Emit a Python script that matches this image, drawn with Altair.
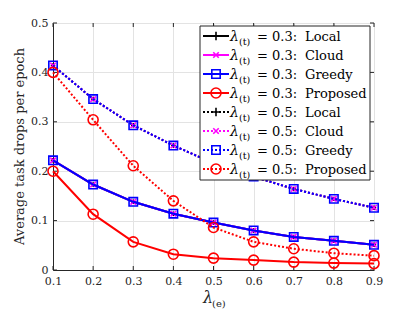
import altair as alt
import pandas as pd

lam_e = [0.1, 0.2, 0.3, 0.4, 0.5, 0.6, 0.7, 0.8, 0.9]
local_03 = [0.222, 0.173, 0.138, 0.114, 0.096, 0.080, 0.067, 0.059, 0.051]
cloud_03 = [0.222, 0.173, 0.138, 0.114, 0.096, 0.080, 0.067, 0.059, 0.051]
greedy_03 = [0.222, 0.173, 0.138, 0.114, 0.096, 0.080, 0.067, 0.059, 0.051]
proposed_03 = [0.200, 0.113, 0.057, 0.032, 0.024, 0.020, 0.016, 0.014, 0.013]
local_05 = [0.414, 0.346, 0.293, 0.252, 0.216, 0.189, 0.164, 0.144, 0.126]
cloud_05 = [0.414, 0.346, 0.293, 0.252, 0.216, 0.189, 0.164, 0.144, 0.126]
greedy_05 = [0.414, 0.346, 0.293, 0.252, 0.216, 0.189, 0.164, 0.144, 0.126]
proposed_05 = [0.400, 0.304, 0.211, 0.140, 0.086, 0.057, 0.043, 0.034, 0.029]

x_ticks = [0.1, 0.2, 0.3, 0.4, 0.5, 0.6, 0.7, 0.8, 0.9]
y_ticks = [0, 0.1, 0.2, 0.3, 0.4, 0.5]

W, H = 321, 247
FONT = "DejaVu Serif"
AX = "#262626"

PLUS = "M-1,0L1,0M0,-1L0,1"
XMARK = "M-1,-1L1,1M-1,1L1,-1"

# (lambda_t, name, values, colour, shape, plot size, legend size, dash)
series = [
    ("0.3", "Local", local_03, "black", PLUS, 20, 70, []),
    ("0.3", "Cloud", cloud_03, "#ff00ff", XMARK, 30, 30, []),
    ("0.3", "Greedy", greedy_03, "#0000ff", "square", 70, 70, []),
    ("0.3", "Proposed", proposed_03, "#ff0000", "circle", 100, 100, []),
    ("0.5", "Local", local_05, "black", PLUS, 20, 70, [2, 2]),
    ("0.5", "Cloud", cloud_05, "#ff00ff", XMARK, 30, 30, [2, 2]),
    ("0.5", "Greedy", greedy_05, "#0000ff", "square", 70, 70, [2, 2]),
    ("0.5", "Proposed", proposed_05, "#ff0000", "circle", 100, 100, [2, 2]),
]

xs = alt.Scale(domain=[0.1, 0.9], nice=False, zero=False)
ys = alt.Scale(domain=[0, 0.5], nice=False)

xaxis = alt.Axis(values=x_ticks, format=".1f", title=None, ticks=False, labelPadding=5,
                 grid=True, gridColor="#e3e3e3", labelFont=FONT, labelFontSize=11,
                 labelColor=AX, domainColor=AX, labelFlush=False)
yaxis = alt.Axis(values=y_ticks, title=None, ticks=False, labelPadding=5,
                 grid=True, gridColor="#e3e3e3", labelFont=FONT, labelFontSize=11,
                 labelColor=AX, domainColor=AX, labelFlush=False,
                 labelExpr="datum.value == 0 ? '0' : format(datum.value, '.1f')")

layers = []

tick_df = pd.DataFrame({"x": x_ticks})
ytick_df = pd.DataFrame({"y": y_ticks})
layers.append(alt.Chart(tick_df).mark_rule(color=AX, strokeWidth=1).encode(
    x=alt.X("x:Q", scale=xs, axis=xaxis), y=alt.value(H), y2=alt.value(H - 4)))
layers.append(alt.Chart(tick_df).mark_rule(color=AX, strokeWidth=1).encode(
    x=alt.X("x:Q", scale=xs), y=alt.value(0), y2=alt.value(4)))
layers.append(alt.Chart(ytick_df).mark_rule(color=AX, strokeWidth=1).encode(
    y=alt.Y("y:Q", scale=ys, axis=yaxis), x=alt.value(0), x2=alt.value(4)))
layers.append(alt.Chart(ytick_df).mark_rule(color=AX, strokeWidth=1).encode(
    y=alt.Y("y:Q", scale=ys), x=alt.value(W), x2=alt.value(W - 4)))

for lam, name, vals, col, shape, size, lsize, dash in series:
    df = pd.DataFrame({"x": lam_e, "y": vals})
    base = alt.Chart(df).encode(x=alt.X("x:Q", scale=xs), y=alt.Y("y:Q", scale=ys))
    lk = dict(color=col, strokeWidth=2)
    if dash:
        lk["strokeDash"] = dash
    layers.append(base.mark_line(**lk))
    layers.append(base.mark_point(shape=shape, size=size, filled=False, color=col,
                                  strokeWidth=1.6, opacity=1))

# legend
one = pd.DataFrame({"a": [0]})
layers.append(alt.Chart(one).mark_rect(fill="white", stroke=AX, strokeWidth=1).encode(
    x=alt.value(147), x2=alt.value(317), y=alt.value(3), y2=alt.value(157)))
for i, (lam, name, vals, col, shape, size, lsize, dash) in enumerate(series):
    yc = 13 + 19 * i
    lk = dict(color=col, strokeWidth=2)
    if dash:
        lk["strokeDash"] = dash
    layers.append(alt.Chart(one).mark_rule(**lk).encode(
        x=alt.value(150), x2=alt.value(176), y=alt.value(yc)))
    layers.append(alt.Chart(one).mark_point(shape=shape, size=lsize, filled=False, color=col,
                                            strokeWidth=1.6, opacity=1).encode(
        x=alt.value(163), y=alt.value(yc)))
    tk = dict(font=FONT, fontSize=13, color="black", align="left", baseline="alphabetic")
    layers.append(alt.Chart(one).mark_text(fontStyle="italic", **{**tk, "fontSize": 14}).encode(
        x=alt.value(177), y=alt.value(yc + 5), text=alt.value("λ")))
    layers.append(alt.Chart(one).mark_text(**{**tk, "fontSize": 9.5}).encode(
        x=alt.value(186), y=alt.value(yc + 9), text=alt.value("(t)")))
    layers.append(alt.Chart(one).mark_text(**tk).encode(
        x=alt.value(204), y=alt.value(yc + 5), text=alt.value("= " + lam + ":")))
    layers.append(alt.Chart(one).mark_text(**tk).encode(
        x=alt.value(252), y=alt.value(yc + 5), text=alt.value(name)))

# axis titles
layers.append(alt.Chart(one).mark_text(font=FONT, fontSize=13, color=AX, angle=270,
                                       align="center", baseline="middle").encode(
    x=alt.value(-33), y=alt.value(H / 2), text=alt.value("Average task drops per epoch")))
layers.append(alt.Chart(one).mark_text(font=FONT, fontSize=16, fontStyle="italic", color=AX,
                                       align="left", baseline="alphabetic").encode(
    x=alt.value(150), y=alt.value(H + 33), text=alt.value("λ")))
layers.append(alt.Chart(one).mark_text(font=FONT, fontSize=10, color=AX,
                                       align="left", baseline="alphabetic").encode(
    x=alt.value(159), y=alt.value(H + 37), text=alt.value("(e)")))

chart = alt.layer(*layers).properties(
    width=W, height=H,
    autosize=alt.AutoSizeParams(type="none"),
    padding={"left": 45, "top": 15, "right": 30, "bottom": 40},
).configure_view(stroke=AX, strokeWidth=1).configure(background="white")

chart.save("out.html", embed_options={"renderer": "svg", "actions": False})
